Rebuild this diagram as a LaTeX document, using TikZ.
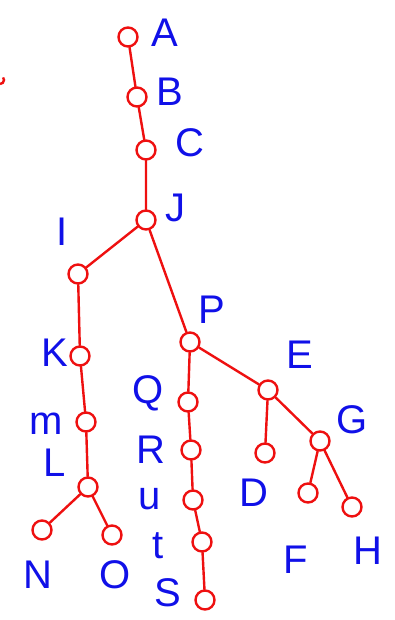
\documentclass[tikz,border=0pt]{standalone}
\usepackage{fontspec}
\setmainfont{Liberation Sans}
\usepackage{xcolor}
\usetikzlibrary{positioning}
\definecolor{penred}{RGB}{238,16,16}
\definecolor{penblue}{RGB}{16,16,232}

\begin{document}
\begin{tikzpicture}[x=1pt,y=-1pt, every node/.style={font=\fontsize{40}{40}\selectfont},
  nd/.style={draw=penred,circle,line width=2.4pt,inner sep=0pt,minimum size=19pt},
  lb/.style={text=penblue,inner sep=0pt}]
  \useasboundingbox (0,0) rectangle (394,620);
  % tree nodes
  \node[nd] (a) at (128,37) {};
  \node[nd] (b) at (137,97) {};
  \node[nd] (c) at (146,150) {};
  \node[nd] (j) at (146,220) {};
  \node[nd] (i) at (78,274) {};
  \node[nd] (k) at (80,356) {};
  \node[nd] (m) at (86,422) {};
  \node[nd] (l) at (88,487) {};
  \node[nd] (n) at (42,530) {};
  \node[nd] (o) at (112,535) {};
  \node[nd] (p) at (190,342) {};
  \node[nd] (q) at (188,402) {};
  \node[nd] (r) at (191,450) {};
  \node[nd] (u) at (193,500) {};
  \node[nd] (t) at (202,542) {};
  \node[nd] (s) at (205,600) {};
  \node[nd] (e) at (268,390) {};
  \node[nd] (d) at (265,453) {};
  \node[nd] (g) at (320,441) {};
  \node[nd] (f) at (308,493) {};
  \node[nd] (h) at (352,507) {};
  % letters
  \node[lb] (la) at (165,33) {A};
  \node[lb] (lb) at (170,92) {B};
  \node[lb] (lc) at (190,143) {C};
  \node[lb] (lj) at (175,208) {J};
  \node[lb] (li) at (62,232) {I};
  \node[lb] (lk) at (55,353) {K};
  \node[lb] (lm) at (46,424) {m};
  \node[lb] (ll) at (55,463) {L};
  \node[lb] (ln) at (38,575) {N};
  \node[lb] (lo) at (115,575) {O};
  \node[lb] (lp) at (212,310) {P};
  \node[lb] (lq) at (148,393) {Q};
  \node[lb] (lr) at (151,450) {R};
  \node[lb] (lu) at (150,499) {u};
  \node[lb] (lt) at (158,546) {t};
  \node[lb] (ls) at (168,593) {S};
  \node[lb] (le) at (300,355) {E};
  \node[lb] (ld) at (254,493) {D};
  \node[lb] (lg) at (352,420) {G};
  \node[lb] (lf) at (296,560) {F};
  \node[lb] (lh) at (368,551) {H};
  % edges
  \draw[penred,line width=2.4pt,line cap=round]
    (a)--(b) (b)--(c) (c)--(j) (j)--(i) (j)--(p)
    (i)--(k) (k)--(m) (m)--(l) (l)--(n) (l)--(o)
    (p)--(q) (q)--(r) (r)--(u) (u)--(t) (t)--(s)
    (p)--(e) (e)--(d) (e)--(g) (g)--(f) (g)--(h);
  \draw[penred,line width=2.4pt] (0,84) arc (90:-40:4);
\end{tikzpicture}
\end{document}
